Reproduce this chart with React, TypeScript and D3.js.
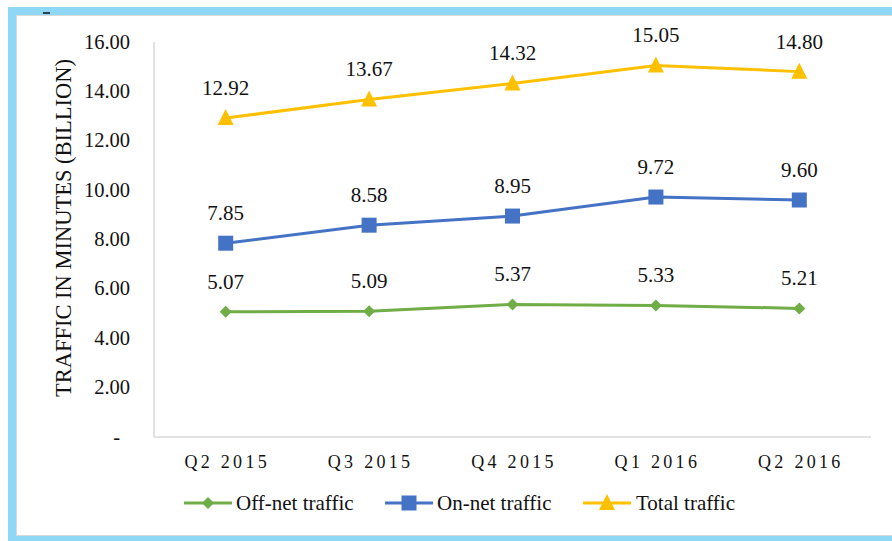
import React from "react";
import * as d3 from "d3";

const categories = ["Q2 2015", "Q3 2015", "Q4 2015", "Q1 2016", "Q2 2016"];
const offNet = [5.07, 5.09, 5.37, 5.33, 5.21];
const onNet = [7.85, 8.58, 8.95, 9.72, 9.6];
const total = [12.92, 13.67, 14.32, 15.05, 14.8];
const yTicks = [0, 2, 4, 6, 8, 10, 12, 14, 16];
const seriesNames = ["Off-net traffic", "On-net traffic", "Total traffic"];

const W = 892;
const H = 541;
const plot = { left: 154, right: 871, top: 42, bottom: 437 };
const font = "'Liberation Serif', 'Times New Roman', 'DejaVu Serif', serif";

type Shape = "diamond" | "square" | "triangle";
const series: { name: string; values: number[]; color: string; shape: Shape }[] = [
  { name: seriesNames[0], values: offNet, color: "#70AD47", shape: "diamond" },
  { name: seriesNames[1], values: onNet, color: "#4472C4", shape: "square" },
  { name: seriesNames[2], values: total, color: "#FFC000", shape: "triangle" },
];

function Marker({ shape, x, y, color }: { shape: Shape; x: number; y: number; color: string }) {
  if (shape === "diamond") {
    const s = 6;
    return <path d={`M${x},${y - s}L${x + s},${y}L${x},${y + s}L${x - s},${y}Z`} fill={color} />;
  }
  if (shape === "square") {
    const s = 7.5;
    return <rect x={x - s} y={y - s} width={2 * s} height={2 * s} fill={color} />;
  }
  const s = 8;
  return <path d={`M${x},${y - 9}L${x + s},${y + 7}L${x - s},${y + 7}Z`} fill={color} />;
}

export default function App() {
  const x = d3.scaleBand<string>().domain(categories).range([plot.left, plot.right]);
  const y = d3.scaleLinear().domain([0, 16]).range([plot.bottom, plot.top]);
  const line = d3
    .line<number>()
    .x((_, i) => (x(categories[i]) as number) + x.bandwidth() / 2)
    .y((d) => y(d));

  const legendItems = [
    { lx: 184, tx: 236 },
    { lx: 385, tx: 437 },
    { lx: 583, tx: 636 },
  ];

  return (
    <svg
      width={W}
      height={H}
      style={{ position: "absolute", left: 0, top: 0, background: "#fff", fontFamily: font }}
    >
      {/* frame */}
      <rect x={8} y={7} width={W - 8} height={8} fill="#8ED8F6" />
      <rect x={8} y={7} width={8} height={H - 7} fill="#8ED8F6" />
      <rect x={8} y={536} width={W - 8} height={5} fill="#8ED8F6" />
      <line x1={16.5} x2={16.5} y1={15} y2={535} stroke="#d9d9d9" />
      <line x1={16} x2={W} y1={15.5} y2={15.5} stroke="#d9d9d9" />
      <line x1={16} x2={W} y1={535.5} y2={535.5} stroke="#d9d9d9" />
      <line x1={43} x2={50} y1={13} y2={13} stroke="#111" strokeWidth={1.5} />

      {/* axes */}
      <line x1={plot.left} x2={plot.left} y1={plot.top} y2={plot.bottom} stroke="#d9d9d9" strokeWidth={1.5} />
      <line x1={plot.left} x2={plot.right} y1={plot.bottom} y2={plot.bottom} stroke="#d9d9d9" strokeWidth={1.5} />

      {yTicks.map((t) => (
        <text
          key={t}
          x={t === 0 ? 120 : 130}
          y={y(t)}
          dy="0.32em"
          textAnchor="end"
          fontSize={20.5}
          fill="#111"
        >
          {t === 0 ? "-" : d3.format(".2f")(t)}
        </text>
      ))}

      <text
        transform={`translate(70.5,228) rotate(-90)`}
        textAnchor="middle"
        fontSize={22.5}
        fill="#111"
      >
        TRAFFIC IN MINUTES (BILLION)
      </text>

      {categories.map((c) => (
        <text
          key={c}
          x={(x(c) as number) + x.bandwidth() / 2 + 1.5}
          y={462}
          dy="0.35em"
          textAnchor="middle"
          fontSize={18}
          letterSpacing={3.3}
          fill="#111"
        >
          {c}
        </text>
      ))}

      {series.map((s) => (
        <g key={s.name}>
          <path d={line(s.values) || ""} fill="none" stroke={s.color} strokeWidth={3} />
          {s.values.map((v, i) => {
            const cx = (x(categories[i]) as number) + x.bandwidth() / 2;
            const cy = y(v);
            return (
              <g key={i}>
                <Marker shape={s.shape} x={cx} y={cy} color={s.color} />
                <text x={cx} y={cy - 30} dy="0.33em" textAnchor="middle" fontSize={21} fill="#111">
                  {d3.format(".2f")(v)}
                </text>
              </g>
            );
          })}
        </g>
      ))}

      {series.map((s, i) => {
        const { lx, tx } = legendItems[i];
        const ly = 503;
        return (
          <g key={s.name}>
            <line x1={lx} x2={lx + 48} y1={ly} y2={ly} stroke={s.color} strokeWidth={3} />
            <Marker shape={s.shape} x={lx + 24} y={ly} color={s.color} />
            <text x={tx} y={ly} dy="0.33em" fontSize={21} fill="#111">
              {s.name}
            </text>
          </g>
        );
      })}
    </svg>
  );
}
